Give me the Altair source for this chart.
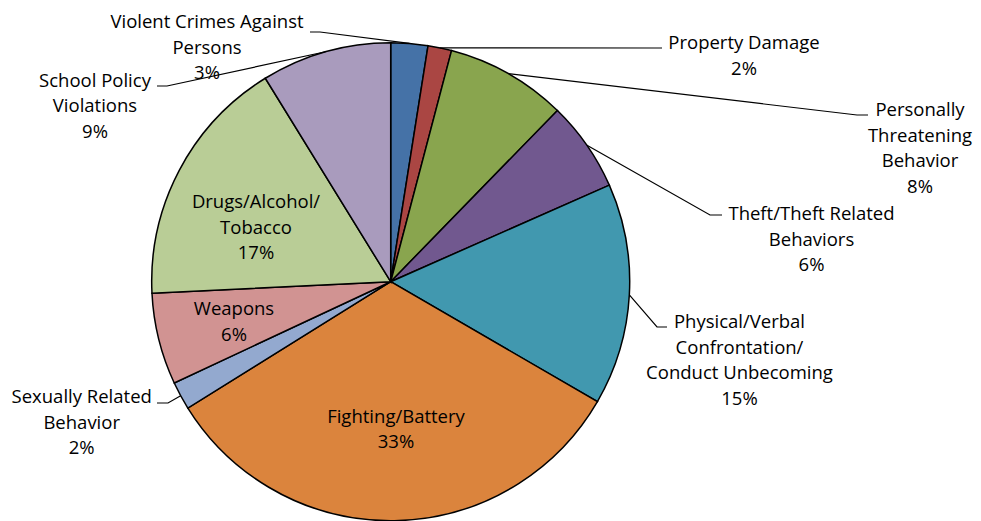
import math
import altair as alt
import pandas as pd

# ---- data ----
categories = [
    "Violent Crimes Against Persons",
    "Property Damage",
    "Personally Threatening Behavior",
    "Theft/Theft Related Behaviors",
    "Physical/Verbal Confrontation/Conduct Unbecoming",
    "Fighting/Battery",
    "Sexually Related Behavior",
    "Weapons",
    "Drugs/Alcohol/Tobacco",
    "School Policy Violations",
]
values = [2.5, 1.6, 8.2, 6.1, 15.0, 32.8, 1.9, 6.2, 17.0, 8.8]
pct_labels = ["3%", "2%", "8%", "6%", "15%", "33%", "2%", "6%", "17%", "9%"]
label_lines = [
    ["Violent Crimes Against", "Persons"],
    ["Property Damage"],
    ["Personally", "Threatening", "Behavior"],
    ["Theft/Theft Related", "Behaviors"],
    ["Physical/Verbal", "Confrontation/", "Conduct Unbecoming"],
    ["Fighting/Battery"],
    ["Sexually Related", "Behavior"],
    ["Weapons"],
    ["Drugs/Alcohol/", "Tobacco"],
    ["School Policy", "Violations"],
]
colors = ["#4572A7", "#AA4643", "#89A54E", "#71588F", "#4198AF",
          "#DB843D", "#93A9CF", "#D19392", "#B9CD96", "#A99BBD"]

# ---- layout (page pixel positions) ----
M = 8  # page margin
CX, CY, R = 390.7, 281.7, 239
LINE_H = 25.5
FONT = "Open Sans"
FSIZE = 18.5
# label first-line centre (x, y)
label_pos = [(207, 22), (744, 43), (920, 110), (811.5, 214), (739.5, 322),
             (396, 416.5), (81.7, 397), (234, 309), (256, 202), (95, 80.5)]
# leader elbow and end points (None = inside label)
leader = [((320, 32), (310, 32)), ((655, 48), (662, 48)),
          ((857, 115), (868, 115)), ((710, 215), (722, 215)),
          ((657, 327), (667, 327)), None, ((168, 403), (157, 403)),
          None, None, ((167, 86), (157, 86))]

df = pd.DataFrame({"cat": categories, "value": values, "idx": range(len(values))})

# slice mid-angles from the data
total = sum(values)
mids = []
acc = 0.0
for v in values:
    mids.append((acc + v / 2) / total * 2 * math.pi)
    acc += v

text_rows = []
for i, (lines, pct) in enumerate(zip(label_lines, pct_labels)):
    lx, ly = label_pos[i]
    for j, t in enumerate(lines + [pct]):
        text_rows.append({"x": lx - M, "y": ly - M + j * LINE_H, "t": t})
text_df = pd.DataFrame(text_rows)

line_rows = []
for i, ld in enumerate(leader):
    if ld is None:
        continue
    sx = CX + R * math.sin(mids[i])
    sy = CY - R * math.cos(mids[i])
    pts = [(sx, sy), ld[0], ld[1]]
    for k, (px, py) in enumerate(pts):
        line_rows.append({"g": i, "o": k, "x": px - M, "y": py - M})
line_df = pd.DataFrame(line_rows)

pie = alt.Chart(df).mark_arc(radius=R, stroke="black", strokeWidth=1.5).encode(
    theta=alt.Theta("value:Q", stack=True),
    color=alt.Color("cat:N", scale=alt.Scale(domain=categories, range=colors), legend=None),
    order=alt.Order("idx:Q"),
    x=alt.value(CX - M),
    y=alt.value(CY - M),
)

leaders = alt.Chart(line_df).mark_line(color="black", strokeWidth=1.2).encode(
    x=alt.X("x:Q", scale=None, axis=None),
    y=alt.Y("y:Q", scale=None, axis=None),
    detail="g:N",
    order="o:Q",
)

texts = alt.Chart(text_df).mark_text(
    font=FONT, fontSize=FSIZE, color="#000000", align="center", baseline="middle"
).encode(
    x=alt.X("x:Q", scale=None, axis=None),
    y=alt.Y("y:Q", scale=None, axis=None),
    text="t:N",
)

chart = alt.layer(pie, leaders, texts).properties(
    width=965, height=513, autosize=alt.AutoSizeParams(type="none"), padding=0
).configure_view(stroke=None)

chart.save("out.html", embed_options={"renderer": "svg", "actions": False})
